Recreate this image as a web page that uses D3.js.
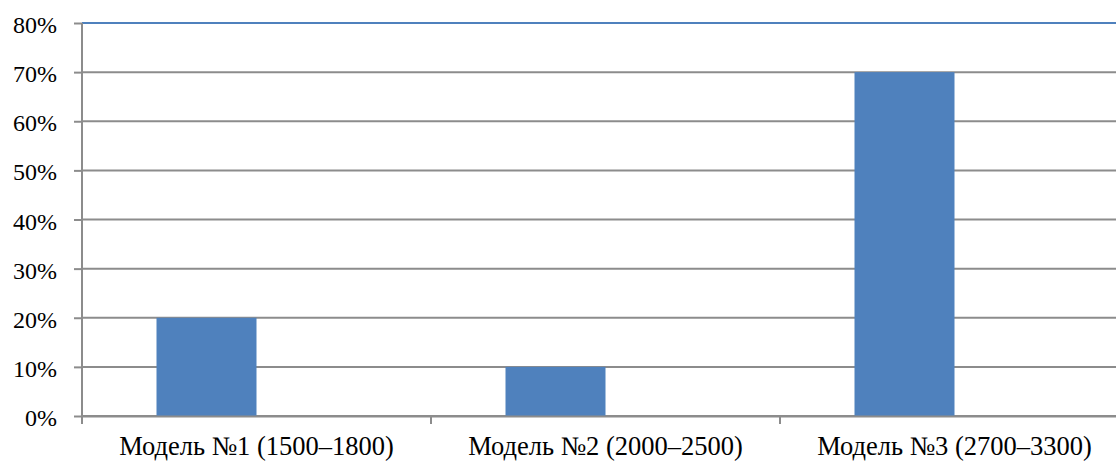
<!DOCTYPE html>
<html>
<head>
<meta charset="utf-8">
<script src="https://cdn.jsdelivr.net/npm/d3@7"></script>
<style>
  body { margin: 0; background: #fff; }
  text { font-family: "Liberation Serif", "Times New Roman", serif; fill: #000; }
</style>
</head>
<body>
<svg id="chart" width="1116" height="461"></svg>
<script>
const categories = ["Модель №1 (1500–1800)", "Модель №2 (2000–2500)", "Модель №3 (2700–3300)"];
const seriesNames = ["Ряд 1", "Ряд 2"];
const series1 = [0.20, 0.10, 0.70];
const series2 = [0, 0, 0];
const yTicks = [0, 0.1, 0.2, 0.3, 0.4, 0.5, 0.6, 0.7, 0.8];

const svg = d3.select("#chart");
const margin = { top: 23, left: 82 };
const plotWidth = 1047;
const plotHeight = 393;

const g = svg.append("g")
  .attr("transform", `translate(${margin.left},${margin.top})`);

const x = d3.scaleBand().domain(categories).range([0, plotWidth]).paddingInner(0).paddingOuter(0);
const xs = d3.scaleBand().domain(seriesNames).range([0, x.bandwidth()]).paddingInner(0).paddingOuter(149 / 200);
const y = d3.scaleLinear().domain([0, 0.8]).range([plotHeight, 0]);

// gridlines
g.selectAll(".grid")
  .data(yTicks)
  .join("line")
  .attr("class", "grid")
  .attr("x1", 0)
  .attr("x2", plotWidth)
  .attr("y1", d => y(d))
  .attr("y2", d => y(d))
  .attr("stroke", d => d === 0.8 ? "#4f81bd" : "#8c8c8c")
  .attr("stroke-width", 2);

// bars
const data = categories.map((c, i) => ({ c, vals: [series1[i], series2[i]] }));
const groups = g.selectAll(".cat")
  .data(data)
  .join("g")
  .attr("transform", d => `translate(${x(d.c)},0)`);

groups.selectAll("rect")
  .data(d => d.vals.map((v, j) => ({ v, s: seriesNames[j] })))
  .join("rect")
  .attr("x", d => xs(d.s))
  .attr("width", xs.bandwidth())
  .attr("y", d => y(d.v))
  .attr("height", d => plotHeight - y(d.v))
  .attr("fill", "#4f81bd");

// y axis
const yAxis = g.append("g")
  .call(d3.axisLeft(y).tickValues(yTicks).tickFormat(d3.format(".0%")).tickSize(8).tickPadding(17));
yAxis.select(".domain").attr("stroke", "#8c8c8c").attr("stroke-width", 2).attr("d", `M0,0V${plotHeight + 8}`);
yAxis.selectAll(".tick line").attr("stroke", "#8c8c8c").attr("stroke-width", 2);
yAxis.selectAll(".tick text").attr("font-size", "24px").attr("dy", "0.4em").attr("fill", "#000");

// x axis
const xAxis = g.append("g")
  .attr("transform", `translate(0,${plotHeight})`)
  .call(d3.axisBottom(x).tickSize(0).tickPadding(20));
xAxis.select(".domain").attr("stroke", "#8c8c8c").attr("stroke-width", 2);
xAxis.selectAll(".tick text").attr("font-size", "26.5px").attr("fill", "#000");

g.selectAll(".xtick")
  .data(categories.concat([null]))
  .join("line")
  .attr("x1", (d, i) => i * x.step())
  .attr("x2", (d, i) => i * x.step())
  .attr("y1", plotHeight)
  .attr("y2", plotHeight + 8)
  .attr("stroke", "#8c8c8c")
  .attr("stroke-width", 2);
</script>
</body>
</html>
